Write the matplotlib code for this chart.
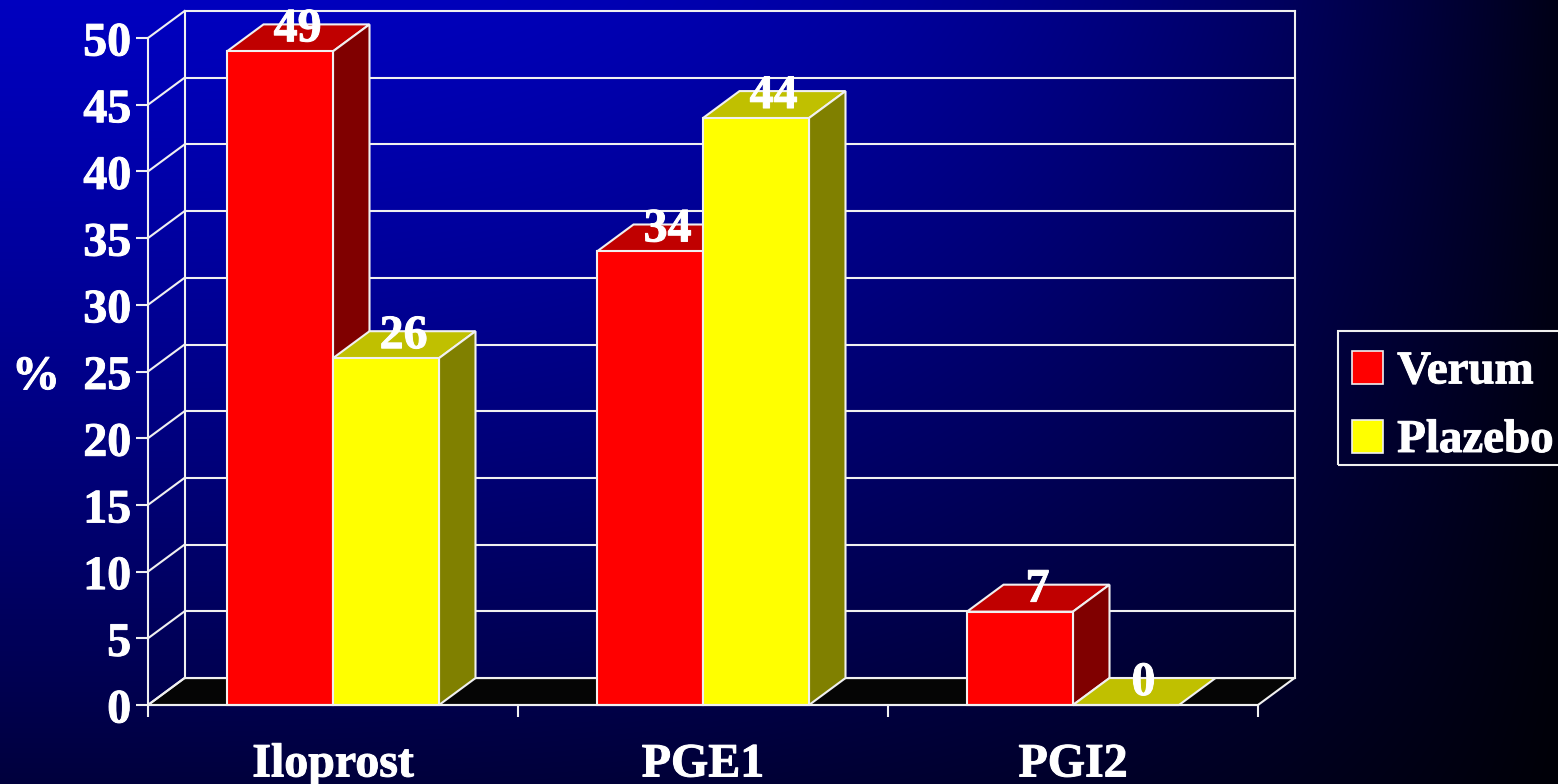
import numpy as np
import matplotlib
matplotlib.use("Agg")
import matplotlib.pyplot as plt
import matplotlib.patheffects as pe
from matplotlib.legend_handler import HandlerPatch
from matplotlib.patches import Polygon, Patch, Rectangle
from matplotlib.transforms import ScaledTranslation

categories = ["Iloprost", "PGE1", "PGI2"]
verum = [49, 34, 7]
plazebo = [26, 44, 0]
y_ticks = [0, 5, 10, 15, 20, 25, 30, 35, 40, 45, 50]
series_names = ["Verum", "Plazebo"]

W, H = 1558, 784
plt.rcParams["font.family"] = ["Liberation Serif", "DejaVu Serif"]
plt.rcParams["font.weight"] = "bold"
FS = 34.5
LW = 1.5
WHITE = "#f0f0f0"
HEAVY = [pe.withStroke(linewidth=0.7, foreground="white")]

fig = plt.figure(figsize=(W / 100, H / 100), dpi=100)

# Backdrop: blue top-left corner fading towards the right and bottom edges
bg = fig.add_axes([0, 0, 1, 1], zorder=0)
gx, gy = np.meshgrid(np.linspace(0, 1, 400), np.linspace(0, 1, 200))
blue = 0.75 * (1 - 0.88 * gx ** 2.8) * (1 - 0.68 * gy ** 1.2)
img = np.dstack([np.zeros_like(blue), np.zeros_like(blue), blue])
bg.imshow(img, aspect="auto", extent=(0, 1, 1, 0), interpolation="bilinear")
bg.axis("off")

ax = fig.add_axes([148 / W, (H - 705) / H, 1110 / W, 667 / H], zorder=1)
ax.set_xlim(0, 3)
ax.set_ylim(0, 50)
ax.patch.set_alpha(0)

# Oblique offset of the 3-D box, in data units
DX, DY = 36.5 / 370, 2.02
BAR_W = 106 / 370
XMAX, YMAX = 3, 50

def line(xs, ys, z=2):
    ax.plot(xs, ys, color=WHITE, lw=LW, zorder=z, clip_on=False, solid_capstyle="projecting")

def poly(pts, face, z):
    ax.add_patch(Polygon(pts, closed=True, facecolor=face, edgecolor=WHITE, lw=LW,
                         zorder=z, clip_on=False, joinstyle="miter"))

# Floor, back wall and side wall
poly([(0, 0), (XMAX, 0), (XMAX + DX, DY), (DX, DY)], "#050505", 1.5)
for v in y_ticks:
    line([0, DX], [v, v + DY])
    line([DX, XMAX + DX], [v + DY, v + DY])
line([DX, DX], [DY, YMAX + DY])
line([XMAX + DX, XMAX + DX], [DY, YMAX + DY])

def bar3d(x0, val, front, top, side, z):
    ax.bar(x0, val, BAR_W, align="edge", color=front, edgecolor=WHITE, lw=LW, zorder=z + 0.2,
           clip_on=False)
    x1 = x0 + BAR_W
    poly([(x0, val), (x1, val), (x1 + DX, val + DY), (x0 + DX, val + DY)], top, z)
    if val > 0:
        poly([(x1, 0), (x1 + DX, DY), (x1 + DX, val + DY), (x1, val)], side, z)

z = 3.0
for i in range(len(categories)):
    left = i + 0.5 - BAR_W
    bar3d(left, verum[i], "#ff0000", "#c00000", "#800000", z)
    z += 1
    bar3d(left + BAR_W, plazebo[i], "#ffff00", "#c0c000", "#808000", z)
    z += 1

# Value labels sit on the top face of each bar
for i in range(len(categories)):
    left = i + 0.5 - BAR_W
    for x0, val in ((left, verum[i]), (left + BAR_W, plazebo[i])):
        ax.text(x0 + BAR_W / 2 + DX / 2 - 0.002, val + 0.75, str(val), color="white", fontsize=FS,
                fontweight="bold", ha="center", va="baseline", zorder=50, clip_on=False,
                path_effects=HEAVY)

# Axes
for name, sp in ax.spines.items():
    sp.set_visible(name in ("left", "bottom"))
    sp.set_color(WHITE)
    sp.set_linewidth(LW)
    sp.set_zorder(40)
ax.set_yticks(y_ticks)
ax.set_xticks(range(len(categories) + 1))
ax.set_xticklabels([])
ax.set_xticks([i + 0.5 for i in range(len(categories))], minor=True)
ax.set_xticklabels(categories, minor=True)
ax.tick_params(axis="y", length=8.6, width=LW, color=WHITE, labelcolor="white", labelsize=FS, pad=3.5)
ax.tick_params(axis="x", which="major", length=8.6, width=LW, color=WHITE)
ax.tick_params(axis="x", which="minor", length=0, labelcolor="white", labelsize=FS, pad=27)
ax.set_axisbelow(False)
nudge = ScaledTranslation(0, -0.5 / 100, fig.dpi_scale_trans)
for tick in ax.yaxis.get_major_ticks():
    tick.label1.set_transform(tick.label1.get_transform() + nudge)
    tick.label1.set_fontweight("bold")
    tick.label1.set_path_effects(HEAVY)
for tick in ax.xaxis.get_minor_ticks():
    tick.label1.set_fontweight("bold")
    tick.label1.set_path_effects(HEAVY)

fig.text(36 / W, 1 - 377 / H, "%", color="white", fontsize=FS, fontweight="bold",
         ha="center", va="center", path_effects=HEAVY)

# Legend: the box runs off the right edge of the slide
fig.add_artist(Rectangle((1338 / W, 1 - 465 / H), 240 / W, 134 / H, transform=fig.transFigure,
                         facecolor="none", edgecolor=WHITE, lw=LW, zorder=59))
handles = [Patch(facecolor="#ff0000", edgecolor=WHITE, lw=1.2, label=series_names[0]),
           Patch(facecolor="#ffff00", edgecolor=WHITE, lw=1.2, label=series_names[1])]
leg = fig.legend(handles=handles, loc="upper left", bbox_to_anchor=(1338 / W, 1 - 337 / H),
                 borderaxespad=0, frameon=False, handlelength=0.66, handleheight=0.66,
                 handletextpad=0.3, borderpad=0.3, labelspacing=0.56,
                 handler_map={Patch: HandlerPatch(ypad=-0.03)},
                 prop={"family": "Liberation Serif", "weight": "bold", "size": 33.8})
leg.set_zorder(60)
for t in leg.get_texts():
    t.set_color("white")
    t.set_path_effects(HEAVY)

fig.savefig("out.png", dpi=100)
